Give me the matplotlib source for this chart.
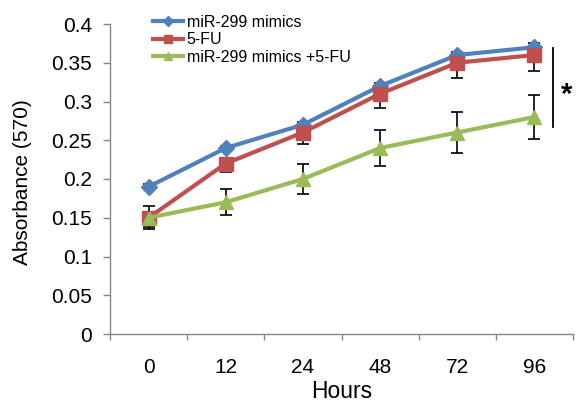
import numpy as np
import matplotlib
matplotlib.use('Agg')
import matplotlib.pyplot as plt

plt.rcParams['font.family'] = ['Liberation Sans', 'DejaVu Sans']

hours = ['0', '12', '24', '48', '72', '96']
mimics = [0.19, 0.24, 0.27, 0.32, 0.36, 0.37]
mimics_err = [0.003, 0.003, 0.003, 0.004, 0.004, 0.005]
fu = [0.15, 0.22, 0.26, 0.31, 0.35, 0.36]
fu_err = [0.012, 0.011, 0.015, 0.018, 0.02, 0.02]
combo = [0.15, 0.17, 0.20, 0.24, 0.26, 0.28]
combo_err = [0.015, 0.017, 0.019, 0.023, 0.026, 0.028]
series_names = ['miR-299 mimics', '5-FU', 'miR-299 mimics +5-FU']
yticks = [0, 0.05, 0.1, 0.15, 0.2, 0.25, 0.3, 0.35, 0.4]
ytick_labels = ['0', '0.05', '0.1', '0.15', '0.2', '0.25', '0.3', '0.35', '0.4']

W, H = 576, 403
fig = plt.figure(figsize=(W / 100, H / 100), dpi=100)
ax = fig.add_axes([110 / W, 1 - 334 / H, (573 - 110) / W, (334 - 24) / H])

x = np.arange(len(hours)) + 0.5
blue, red, green = '#4F81BD', '#C0504D', '#9BBB59'
z = np.zeros(len(hours))

# error bars
ax.errorbar(x, mimics, yerr=[z, mimics_err], fmt='none', ecolor='black',
            elinewidth=1.2, capsize=4.5, capthick=1.2, zorder=2)
ax.errorbar(x, fu, yerr=[fu_err, z], fmt='none', ecolor='black',
            elinewidth=1.2, capsize=4.5, capthick=1.2, zorder=3)
ax.errorbar(x, combo, yerr=[combo_err, combo_err], fmt='none', ecolor='black',
            elinewidth=1.2, capsize=4.5, capthick=1.2, zorder=4)

l1, = ax.plot(x, mimics, color=blue, lw=3, marker='D', ms=8.5, zorder=2.1,
              label=series_names[0])
l2, = ax.plot(x, fu, color=red, lw=3, marker='s', ms=10, zorder=3.1,
              label=series_names[1])
l3, = ax.plot(x, combo, color=green, lw=3, marker='^', ms=10, zorder=4.1,
              label=series_names[2])

ax.set_xlim(0, len(hours))
ax.set_ylim(0, 0.4)

grey = '#868686'
for s in ['top', 'right']:
    ax.spines[s].set_visible(False)
for s in ['left', 'bottom']:
    ax.spines[s].set_color(grey)
    ax.spines[s].set_linewidth(1.0)

ax.set_yticks(yticks)
ax.set_yticklabels(ytick_labels)
ax.tick_params(axis='y', direction='out', length=5, width=1.0, color=grey,
               pad=8, labelsize=15)

ax.set_xticks(np.arange(len(hours) + 1))
ax.set_xticklabels([])
ax.set_xticks(x, minor=True)
ax.set_xticklabels(hours, minor=True)
ax.tick_params(axis='x', which='major', direction='out', length=4, width=1.0, color=grey)
ax.tick_params(axis='x', which='minor', length=0, pad=17, labelsize=15)

ax.set_xlabel('Hours', fontsize=16.5)
ax.xaxis.set_label_coords(0.5, -(392 - 334) / (334 - 24), transform=ax.transAxes)
ax.xaxis.label.set_va('center')
ax.set_ylabel('Absorbance (570)', fontsize=15)
ax.yaxis.set_label_coords(-(110 - 23) / (573 - 110), 0.49)
ax.yaxis.label.set_va('center')

# significance bracket
ax.plot([5.74, 5.74], [0.267, 0.369], color='black', lw=1.3, clip_on=False, zorder=5)
ax.text(5.92, 0.308, '*', fontsize=21, fontweight='bold', ha='center', va='center',
        clip_on=False)

leg = fig.legend(handles=[l1, l2, l3], loc='upper left',
                 bbox_to_anchor=(153 / W, 1 - 15 / H), frameon=False,
                 fontsize=11.5, markerscale=0.55, handlelength=1.9,
                 handletextpad=0.2, labelspacing=0.15, borderpad=0,
                 borderaxespad=0)

fig.savefig('out.png', dpi=100)
